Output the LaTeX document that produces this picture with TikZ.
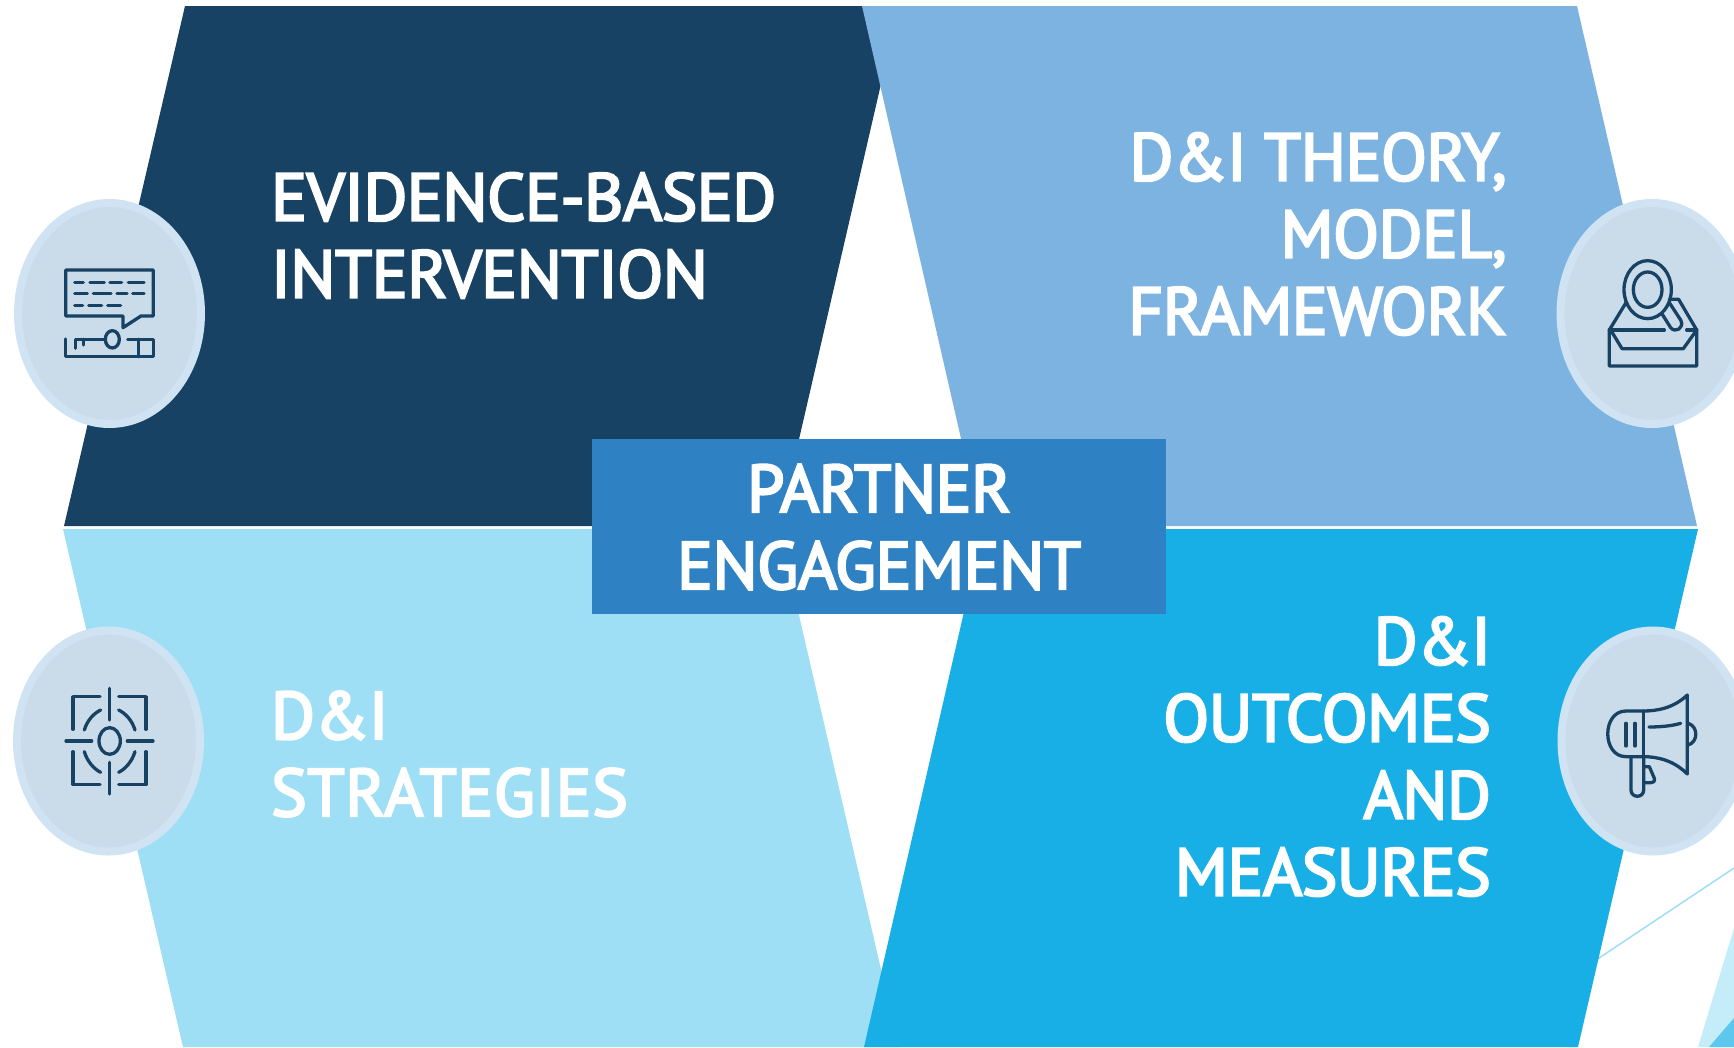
\documentclass[tikz,border=0pt]{standalone}
\usepackage{fontspec}
\newfontfamily\labelfont[FakeBold=3.5, LetterSpace=-0.6]{PT Sans}
\definecolor{navyblue}{HTML}{184263}
\definecolor{softblue}{HTML}{7CB3E1}
\definecolor{paleblue}{HTML}{9FDFF5}
\definecolor{brightblue}{HTML}{17AFE6}
\definecolor{midblue}{HTML}{2E81C3}
\definecolor{badgering}{HTML}{D0E3F3}
\definecolor{badgefill}{HTML}{CADCE9}
\tikzset{
  badge/.style={draw=badgering, fill=badgefill, line width=8pt},
  iconline/.style={draw=navyblue, line width=3.3pt, line cap=round, line join=round},
  label/.style={text=white, inner sep=0pt, font=\labelfont\fontsize{67}{77}\selectfont}
}
\begin{document}
\begin{tikzpicture}[x=1pt, y=-1pt]
    \useasboundingbox (0, 0) rectangle (1734, 1047);
    \clip (0, 0) rectangle (1734, 1047);

    % corner decoration
    \draw[paleblue, line width=1.5pt] (1590, 964) -- (1734, 868);
    \fill[fill=paleblue!60] (1734, 928) -- (1698, 1047) -- (1734, 1047) -- cycle;
    \fill[fill=brightblue!70!white] (1734, 1018) -- (1709, 1047) -- (1734, 1047) -- cycle;

    % the four panels
    \fill[navyblue] (185, 6) -- (899, 6) -- (779, 526) -- (64, 526) -- cycle;
    \fill[softblue] (862, 6) -- (1577, 6) -- (1697, 526) -- (981, 526) -- cycle;
    \fill[paleblue] (63, 529) -- (779, 529) -- (899, 1047) -- (183, 1047) -- cycle;
    \fill[brightblue] (983, 529) -- (1698, 529) -- (1578, 1047) -- (864, 1047) -- cycle;

    \node(Partner) at (592, 439)[anchor=north west, fill=midblue, minimum width=574pt, minimum height=175pt, inner sep=0pt]{};
    \node(PartnerText) at (879, 527)[label, align=center]{PARTNER\\ENGAGEMENT};

    \node(Evidence) at (271, 235.5)[label, anchor=west, align=left]{EVIDENCE-BASED\\INTERVENTION};
    \node(Theory) at (1507, 234)[label, anchor=east, align=right]{D\&I THEORY,\\MODEL,\\FRAMEWORK};
    \node(Strategies) at (271, 754)[label, anchor=west, align=left]{D\&I\\{\addfontfeature{LetterSpace=1}STRATEGIES}};
    \node(Outcomes) at (1491, 756.5)[label, anchor=east, align=right]{D\&I\\OUTCOMES\\AND\\MEASURES};

    % badges
    \draw[badge] (109.5, 313.5) ellipse [x radius=91.5, y radius=110.5];
    \draw[badge] (1652, 313.5) ellipse [x radius=91.5, y radius=110.5];
    \draw[badge] (108.5, 741) ellipse [x radius=91.5, y radius=110.5];
    \draw[badge] (1653, 741) ellipse [x radius=91.5, y radius=110.5];

    % key and speech bubble
    \begin{scope}[shift={(0, 180)}, x=0.3333pt, y=-0.3333pt]
        \draw[iconline] (197, 270) -- (460, 270) -- (460, 408) -- (423, 408) -- (369, 443) -- (369, 408) -- (197, 408) -- cycle;
        \draw[iconline] (224, 307) -- (250, 307) (270, 307) -- (313, 307) (330, 307) -- (365, 307) (385, 307) -- (432, 307);
        \draw[iconline] (224, 341) -- (262, 341) (280, 341) -- (333, 341) (351, 341) -- (381, 341) (398, 341) -- (432, 341);
        \draw[iconline] (224, 376) -- (248, 376) (266, 376) -- (305, 376) (323, 376) -- (362, 376);
        \draw[iconline] (197, 477) -- (197, 530) -- (460, 530) -- (460, 478) -- (383, 478);
        \draw[iconline] (415, 478) -- (415, 530);
        \draw[iconline] (226, 505) -- (226, 478) -- (316, 478);
        \draw[iconline] (250, 478) -- (250, 495);
        \draw[iconline] (337, 478) ellipse [x radius=21, y radius=26];
    \end{scope}

    % magnifier over envelope
    \begin{scope}[shift={(1540, 180)}, x=0.3333pt, y=-0.3333pt]
        \draw[iconline] (323, 329) ellipse [x radius=71, y radius=87];
        \draw[iconline] (323, 329) ellipse [x radius=43, y radius=53];
        \draw[iconline] (365, 400) -- (392, 443) .. controls (405, 460) and (435, 445) .. (422, 420) -- (388, 368);
        \draw[iconline] (258, 368) -- (208, 450) -- (208, 558) -- (470, 558) -- (470, 450) -- (416, 358) -- (388, 358);
        \draw[iconline] (208, 450) -- (373, 450) (440, 450) -- (470, 450);
        \draw[iconline] (215, 455) -- (246, 506) -- (430, 506) -- (470, 450);
    \end{scope}

    % target
    \begin{scope}[shift={(0, 610)}, x=0.3333pt, y=-0.3333pt]
        \draw[iconline] (329, 393) ellipse [x radius=32, y radius=40];
        \draw[iconline] (329, 235) -- (329, 330) (329, 457) -- (329, 552);
        \draw[iconline] (198, 393) -- (275, 393) (382, 393) -- (459, 393);
        \draw[iconline] (219, 358) -- (219, 260) -- (300, 260);
        \draw[iconline] (356, 260) -- (438, 260) -- (438, 358);
        \draw[iconline] (219, 425) -- (219, 524) -- (300, 524);
        \draw[iconline] (356, 524) -- (438, 524) -- (438, 425);
        \draw[iconline] (253, 360) .. controls (262, 330) and (282, 310) .. (302, 300);
        \draw[iconline] (405, 360) .. controls (396, 330) and (376, 310) .. (356, 300);
        \draw[iconline] (253, 425) .. controls (262, 455) and (282, 477) .. (302, 487);
        \draw[iconline] (405, 425) .. controls (396, 455) and (376, 477) .. (356, 487);
    \end{scope}

    % megaphone
    \begin{scope}[shift={(1540, 610)}, x=0.3333pt, y=-0.3333pt]
        \draw[iconline] (442, 255) -- (442, 492) .. controls (400, 450) and (350, 440) .. (310, 440) -- (258, 440) .. controls (185, 440) and (185, 303) .. (258, 303) -- (310, 303) .. controls (350, 303) and (400, 295) .. (442, 255);
        \draw[iconline] (311, 303) -- (311, 440);
        \draw[iconline] (258, 340) -- (258, 408) (285, 340) -- (285, 408);
        \draw[iconline] (327, 351) .. controls (360, 351) and (395, 348) .. (422, 340);
        \draw[iconline] (445, 340) .. controls (475, 350) and (475, 395) .. (445, 405);
        \draw[iconline] (273, 440) -- (273, 540) .. controls (273, 565) and (311, 565) .. (311, 540) -- (311, 440);
        \draw[iconline] (313, 470) -- (328, 470) -- (343, 505) .. controls (345, 515) and (340, 518) .. (333, 518) -- (313, 518);
    \end{scope}
\end{tikzpicture}
\end{document}
